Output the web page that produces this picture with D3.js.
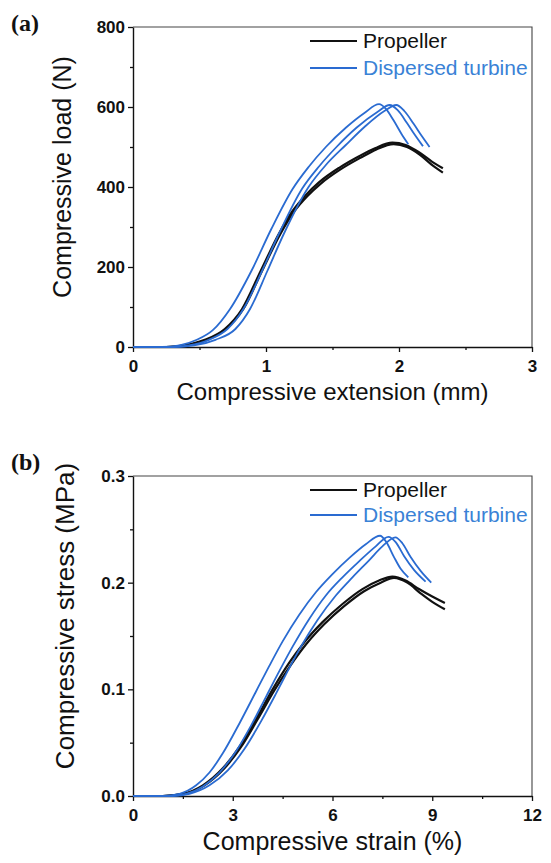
<!DOCTYPE html>
<html>
<head>
<meta charset="utf-8">
<script src="https://cdn.jsdelivr.net/npm/d3@7"></script>
<style>
  body { margin: 0; background: #fff; }
  svg { display: block; }
  .title { font-family: "Liberation Sans", Arial, sans-serif; fill: #111; }
  .panel-tag { font-family: "Liberation Serif", "Times New Roman", serif; font-weight: bold; font-size: 24px; fill: #111; }
  .legend text { font-family: "Liberation Sans", Arial, sans-serif; font-size: 21px; }
</style>
</head>
<body>
<svg id="chart" width="551" height="863"></svg>
<script>
// (a) extension (mm) vs load (N)
const propellerA1 = [[0,0],[0.25,0],[0.38,4],[0.54,18],[0.69,45],[0.82,95],[0.96,190],[1.1,285],[1.2,340],[1.3,380],[1.4,412],[1.55,448],[1.7,477],[1.82,497],[1.95,511],[2.05,505],[2.15,487],[2.25,463],[2.33,447]];
const propellerA2 = [[0,0],[0.25,0],[0.4,4],[0.56,18],[0.7,45],[0.83,95],[0.97,190],[1.11,284],[1.21,338],[1.31,377],[1.41,408],[1.56,444],[1.71,473],[1.83,494],[1.96,507],[2.06,500],[2.16,480],[2.26,452],[2.33,436]];
const turbineA1 = [[0,0],[0.22,0],[0.35,4],[0.48,18],[0.6,42],[0.73,95],[0.89,190],[1.04,295],[1.2,395],[1.32,450],[1.45,500],[1.6,548],[1.74,585],[1.85,607],[1.9,596],[1.96,566],[2.02,532],[2.07,507]];
const turbineA2 = [[0,0],[0.28,0],[0.42,4],[0.57,18],[0.71,45],[0.83,95],[0.97,190],[1.1,285],[1.27,395],[1.4,452],[1.53,500],[1.68,548],[1.84,588],[1.93,605],[1.99,592],[2.06,560],[2.12,530],[2.18,502]];
const turbineA3 = [[0,0],[0.3,0],[0.46,4],[0.62,18],[0.77,45],[0.88,95],[1.01,190],[1.13,280],[1.32,400],[1.45,455],[1.6,505],[1.74,550],[1.89,590],[1.98,605],[2.04,590],[2.11,558],[2.17,528],[2.23,500]];

// (b) strain (%) vs stress (MPa)
const propellerB1 = [[0,0],[0.9,0],[1.5,0.002],[2.1,0.01],[2.7,0.026],[3.2,0.046],[3.7,0.072],[4.2,0.1],[4.7,0.125],[5.15,0.144],[5.7,0.163],[6.3,0.18],[6.9,0.194],[7.4,0.202],[7.8,0.2057],[8.2,0.202],[8.6,0.194],[9.0,0.187],[9.38,0.181]];
const propellerB2 = [[0,0],[0.9,0],[1.55,0.002],[2.15,0.01],[2.75,0.026],[3.25,0.046],[3.75,0.072],[4.25,0.099],[4.75,0.123],[5.2,0.142],[5.75,0.161],[6.35,0.178],[6.95,0.192],[7.45,0.2],[7.85,0.2045],[8.25,0.2],[8.65,0.19],[9.0,0.182],[9.38,0.175]];
const turbineB1 = [[0,0],[0.9,0],[1.4,0.002],[1.9,0.01],[2.3,0.022],[2.7,0.04],[3.2,0.068],[3.7,0.098],[4.1,0.122],[4.5,0.145],[5.0,0.17],[5.5,0.191],[6.0,0.208],[6.5,0.223],[7.0,0.236],[7.43,0.244],[7.62,0.238],[7.85,0.224],[8.05,0.213],[8.28,0.205]];
const turbineB2 = [[0,0],[1.1,0],[1.6,0.002],[2.1,0.009],[2.6,0.022],[3.1,0.042],[3.55,0.066],[4.0,0.093],[4.4,0.117],[4.8,0.14],[5.3,0.166],[5.8,0.188],[6.3,0.205],[6.8,0.22],[7.3,0.234],[7.68,0.243],[7.9,0.238],[8.15,0.225],[8.45,0.212],[8.8,0.201]];
const turbineB3 = [[0,0],[1.2,0],[1.7,0.002],[2.3,0.01],[2.85,0.024],[3.35,0.044],[3.85,0.07],[4.3,0.096],[4.65,0.117],[5.05,0.14],[5.55,0.165],[6.1,0.188],[6.6,0.205],[7.1,0.221],[7.5,0.234],[7.89,0.2425],[8.1,0.237],[8.35,0.224],[8.65,0.211],[8.97,0.2]];

const seriesNames = ["Propeller", "Dispersed turbine"];
const xTicksA = [0, 1, 2, 3];
const yTicksA = [0, 200, 400, 600, 800];
const xTicksB = [0, 3, 6, 9, 12];
const yTicksB = [0, 0.1, 0.2, 0.3];

const black = "#111";
const blue = "#2a6bd1";
const blueText = "#3a82d6";

const svg = d3.select("#chart");

function drawPanel(opt) {
  const { top, bottom, left, right } = opt;
  const g = svg.append("g");

  const x = d3.scaleLinear().domain(opt.xDomain).range([left, right]);
  const y = d3.scaleLinear().domain(opt.yDomain).range([bottom, top]);

  // frame (top + right)
  g.append("path")
    .attr("d", `M${left},${top}H${right}V${bottom}`)
    .attr("fill", "none").attr("stroke", "#444").attr("stroke-width", 1.1);

  // minor ticks
  g.append("g")
    .attr("transform", `translate(0,${bottom})`)
    .call(d3.axisBottom(x).tickValues(opt.xMinor).tickSize(3).tickFormat(""))
    .call(a => a.select(".domain").remove());
  g.append("g")
    .attr("transform", `translate(${left},0)`)
    .call(d3.axisLeft(y).tickValues(opt.yMinor).tickSize(3).tickFormat(""))
    .call(a => a.select(".domain").remove());

  const xa = g.append("g")
    .attr("transform", `translate(0,${bottom})`)
    .call(d3.axisBottom(x).tickValues(opt.xTicks).tickSize(5).tickSizeOuter(0).tickPadding(8).tickFormat(opt.xFmt));
  const ya = g.append("g")
    .attr("transform", `translate(${left},0)`)
    .call(d3.axisLeft(y).tickValues(opt.yTicks).tickSize(5).tickSizeOuter(0).tickPadding(3).tickFormat(opt.yFmt));
  [xa, ya].forEach(a => {
    a.select(".domain").attr("stroke", "#111").attr("stroke-width", 1.4);
    a.selectAll("text")
      .attr("font-family", "'Liberation Sans', Arial, sans-serif")
      .attr("font-weight", "bold")
      .attr("font-size", 17)
      .attr("fill", "#111");
  });
  g.selectAll(".tick line").attr("stroke", "#111").attr("stroke-width", 1.3);

  const line = d3.line()
    .x(d => x(d[0])).y(d => y(d[1]))
    .curve(d3.curveMonotoneX);

  opt.black.forEach(s => {
    g.append("path").datum(s).attr("d", line)
      .attr("fill", "none").attr("stroke", black).attr("stroke-width", 2.2);
  });
  opt.blue.forEach(s => {
    g.append("path").datum(s).attr("d", line)
      .attr("fill", "none").attr("stroke", blue).attr("stroke-width", 1.8);
  });

  // legend
  const lg = g.append("g").attr("class", "legend");
  [black, blue].forEach((c, i) => {
    const ly = opt.legendY + i * opt.legendGap;
    lg.append("line").attr("x1", 310).attr("x2", 357).attr("y1", ly).attr("y2", ly)
      .attr("stroke", c).attr("stroke-width", i ? 1.8 : 2.2);
    lg.append("text").attr("x", 363).attr("y", ly + 7)
      .attr("fill", i ? blueText : black).text(seriesNames[i]);
  });

  g.append("text").attr("class", "title")
    .attr("x", (left + right) / 2).attr("y", opt.xTitleY)
    .attr("text-anchor", "middle").style("font-size", opt.xTitleSize + "px")
    .text(opt.xTitle);
  g.append("text").attr("class", "title")
    .attr("transform", `translate(${opt.yTitleX},${opt.yTitleCy}) rotate(-90)`)
    .attr("text-anchor", "middle").style("font-size", opt.yTitleSize + "px")
    .text(opt.yTitle);

  g.append("text").attr("class", "panel-tag")
    .attr("x", 11).attr("y", opt.tagY).text(opt.tag);
}

drawPanel({
  top: 27, bottom: 347, left: 133, right: 532,
  xDomain: [0, 3], yDomain: [0, 800],
  xTicks: xTicksA, yTicks: yTicksA,
  xMinor: [0.5, 1.5, 2.5], yMinor: [100, 300, 500, 700],
  xFmt: d3.format("d"), yFmt: d3.format("d"),
  black: [propellerA1, propellerA2],
  blue: [turbineA1, turbineA2, turbineA3],
  legendY: 41, legendGap: 27,
  xTitle: "Compressive extension (mm)", xTitleY: 400, xTitleSize: 24,
  yTitle: "Compressive load (N)", yTitleX: 71, yTitleCy: 177, yTitleSize: 25,
  tag: "(a)", tagY: 31
});

drawPanel({
  top: 476, bottom: 796, left: 133, right: 532,
  xDomain: [0, 12], yDomain: [0, 0.3],
  xTicks: xTicksB, yTicks: yTicksB,
  xMinor: [1.5, 4.5, 7.5, 10.5], yMinor: [0.05, 0.15, 0.25],
  xFmt: d3.format("d"), yFmt: d3.format(".1f"),
  black: [propellerB1, propellerB2],
  blue: [turbineB1, turbineB2, turbineB3],
  legendY: 490, legendGap: 25,
  xTitle: "Compressive strain (%)", xTitleY: 850, xTitleSize: 25,
  yTitle: "Compressive stress (MPa)", yTitleX: 74, yTitleCy: 616, yTitleSize: 26,
  tag: "(b)", tagY: 470
});
</script>
</body>
</html>
